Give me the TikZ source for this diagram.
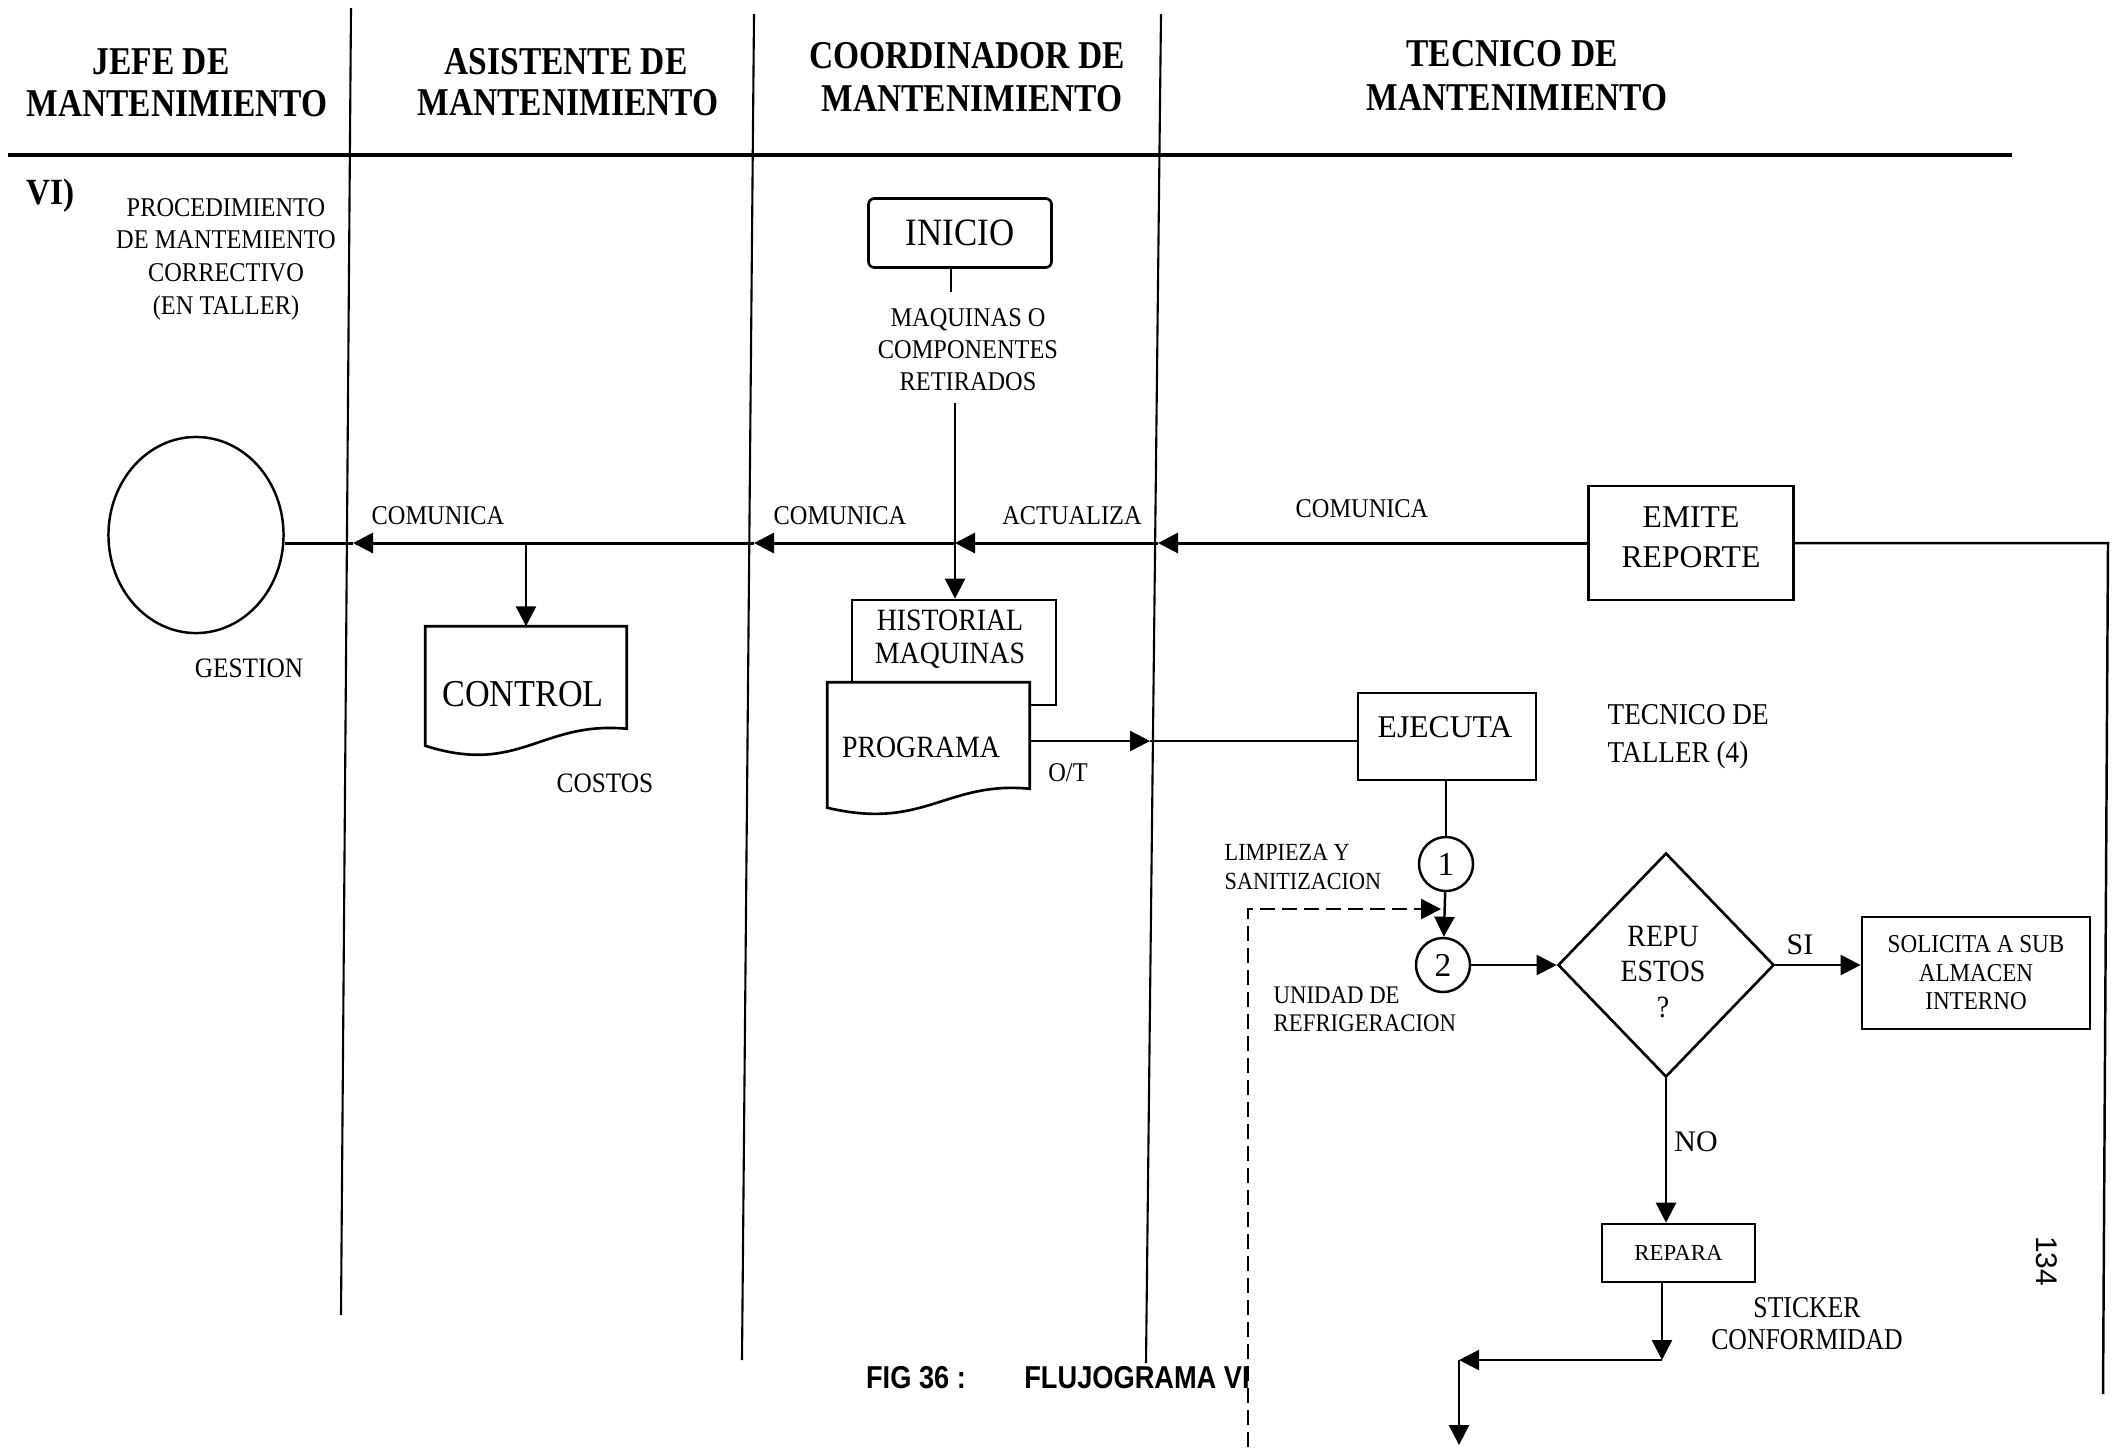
\documentclass[tikz,border=0pt]{standalone}
\usepackage{fontspec}
\setmainfont{Liberation Serif}
\newfontfamily\narrowserif[FakeStretch=0.9]{Liberation Serif}
\newfontfamily\condserif[FakeStretch=0.85]{Liberation Serif}
\newfontfamily\condsans[FakeStretch=0.86]{Liberation Sans}
\newfontfamily\plainsans{Liberation Sans}
\usetikzlibrary{arrows.meta,shapes.geometric,calc}
\newcommand\setsz[2]{\fontsize{#1}{#2}\selectfont}

\begin{document}
\begin{tikzpicture}[x=0.01cm,y=-0.01cm,
  line/.style={line width=0.7pt},
  arr/.style={line width=0.7pt,-{Triangle[length=0.2cm,width=0.2cm]}},
  mainarr/.style={line width=0.85pt,-{Triangle[length=0.2cm,width=0.2cm]}},
  dsharr/.style={line width=0.7pt,dash pattern=on 0.15cm off 0.07cm,-{Triangle[length=0.2cm,width=0.2cm]}},
  lane/.style={line width=0.6pt},
  box/.style={draw,line width=0.75pt,fill=white,inner sep=0pt},
  txt/.style={inner sep=0pt,align=center},
  hdr/.style={txt,font=\condserif\bfseries\setsz{11.2pt}{12pt}},
  lbl/.style={txt,font=\narrowserif\setsz{7.7pt}{9.2pt}},
]
% page
\fill[white] (0,0) rectangle (2112,1447);
\useasboundingbox (0,0) rectangle (2112,1447);

% ---------- swimlane grid ----------
\coordinate (Hl) at (8,155);   \coordinate (Hr) at (2012,155);
\coordinate (L1t) at (351,8);  \coordinate (L1b) at (341,1315);
\coordinate (L2t) at (754,14); \coordinate (L2b) at (742,1360);
\coordinate (L3t) at (1161,14);\coordinate (L3b) at (1146,1363);
\draw[line width=1.2pt] (Hl) -- (Hr);
\draw[lane] (L1t) -- (L1b);
\draw[lane] (L2t) -- (L2b);
\draw[lane] (L3t) -- (L3b);

% lane titles
\node[hdr] (hja) at (161,62)  {JEFE DE};
\node[hdr] (hjb) at (177,104) {MANTENIMIENTO};
\node[hdr] (haa) at (566,62)  {ASISTENTE DE};
\node[hdr] (hab) at (568,103) {MANTENIMIENTO};
\node[hdr] (hca) at (967,56)  {COORDINADOR DE};
\node[hdr] (hcb) at (972,99)  {MANTENIMIENTO};
\node[hdr] (hta) at (1512,54) {TECNICO DE};
\node[hdr] (htb) at (1517,98) {MANTENIMIENTO};

\node[txt,font=\narrowserif\bfseries\setsz{10.5pt}{11pt}] (vi) at (51,196) {VI)};
\node[lbl,font=\narrowserif\setsz{7.7pt}{9.3pt}] (proc) at (226,259)
  {PROCEDIMIENTO\\DE MANTEMIENTO\\CORRECTIVO\\(EN TALLER)};

% ---------- shapes ----------
\node[draw,ellipse,line width=0.7pt,minimum width=1.75cm,minimum height=1.96cm,inner sep=0pt] (gest) at (196,535) {};
\node[lbl,font=\narrowserif\setsz{8pt}{9pt}] (gesttxt) at (249,668) {GESTION};

\node[box,rounded corners=0.06cm,minimum width=1.83cm,minimum height=0.69cm,
      font=\narrowserif\setsz{11pt}{12pt}] (inicio) at (960,233) {INICIO};
\node[lbl,font=\narrowserif\setsz{7.7pt}{9.1pt}] (maq) at (968,350)
  {MAQUINAS O\\COMPONENTES\\RETIRADOS};

\node[box,minimum width=2.05cm,minimum height=1.14cm] (emite) at (1691,543) {};
\node[txt,font=\setsz{9pt}{11.4pt}] (emitetxt) at (1691,537) {EMITE\\REPORTE};

% CONTROL document
\node[inner sep=0pt,minimum width=2.0cm,minimum height=1.01cm] (control) at (526,677.5) {};
\draw[line width=0.75pt,fill=white] (control.north west) -- (control.north east) -- (control.south east)
  .. controls +(-86,-8) and +(94,30) .. ($(control.south west)+(0,17)$) -- cycle;
\node[txt,font=\narrowserif\setsz{10.8pt}{12pt}] (controltxt) at (523,694) {CONTROL};
\node[lbl,font=\narrowserif\setsz{8pt}{9pt}] (costos) at (605,783) {COSTOS};

% HISTORIAL box behind the PROGRAMA document
\node[box,minimum width=2.04cm,minimum height=1.05cm] (historial) at (954,652.5) {};
\node[txt,font=\narrowserif\setsz{8.8pt}{9.4pt}] (historialtxt) at (950,639) {HISTORIAL\\MAQUINAS};
\node[inner sep=0pt,minimum width=2.01cm,minimum height=1.05cm] (programa) at (928.5,735.5) {};
\draw[line width=0.75pt,fill=white] (programa.north west) -- (programa.north east) -- (programa.south east)
  .. controls +(-84,-8) and +(97,23) .. ($(programa.south west)+(0,19)$) -- cycle;
\node[txt,font=\narrowserif\setsz{8.8pt}{10pt}] (programatxt) at (921,747) {PROGRAMA};

\node[box,minimum width=1.78cm,minimum height=0.87cm] (ejecuta) at (1447,736.5) {};
\node[txt,font=\setsz{9pt}{10pt}] (ejecutatxt) at (1445,727) {EJECUTA};
\node[txt,anchor=west,align=left,font=\narrowserif\setsz{8.6pt}{10.8pt}] (taller) at (1607,737)
  {TECNICO DE\\TALLER (4)};

\node[draw,circle,line width=0.7pt,minimum size=0.54cm,inner sep=0pt,font=\setsz{9.5pt}{10pt}] (c1) at (1446,864) {1};
\node[draw,circle,line width=0.7pt,minimum size=0.54cm,inner sep=0pt,font=\setsz{9.5pt}{10pt}] (c2) at (1443,965) {2};
\node[txt,anchor=west,align=left,font=\narrowserif\setsz{7pt}{8.5pt}] (limp) at (1224,867)
  {LIMPIEZA Y\\SANITIZACION};
\node[txt,anchor=west,align=left,font=\narrowserif\setsz{7.2pt}{8pt}] (unid) at (1273,1009)
  {UNIDAD DE\\REFRIGERACION};

\node[draw,diamond,line width=0.75pt,minimum width=2.16cm,minimum height=2.24cm,inner sep=0pt] (rep) at (1666,965) {};
\node[txt,font=\narrowserif\setsz{8.8pt}{10.2pt}] (reptxt) at (1663,972) {REPU\\ESTOS\\?};

\node[box,minimum width=2.28cm,minimum height=1.12cm,align=center,
      font=\narrowserif\setsz{7.3pt}{8.1pt}] (sol) at (1976,973) {SOLICITA A SUB\\ALMACEN\\INTERNO};

\node[box,minimum width=1.53cm,minimum height=0.58cm,font=\setsz{6.5pt}{7pt}] (repara) at (1678.5,1253) {REPARA};
\node[txt,font=\condserif\setsz{8.6pt}{9.1pt}] (sticker) at (1807,1324) {STICKER\\CONFORMIDAD};

% ---------- connectors ----------
% main reporting line, right to left
\coordinate (m3) at (1158,543);
\coordinate (mj) at (955,543);
\coordinate (m2) at (754,543);
\coordinate (mc) at (526,543);
\coordinate (m1) at (353,543);
\draw[mainarr] (emite.west) -- (m3);
\draw[mainarr] (m3) -- (mj);
\draw[mainarr] (mj) -- (m2);
\draw[mainarr] (m2) -- (m1);
\draw[line width=0.85pt] (m1) -- (m1 -| gest.east);
\draw[arr] (mc) -- (control.north);
\node[lbl] (com1) at (438,516) {COMUNICA};
\node[lbl] (com2) at (840,516) {COMUNICA};
\node[lbl] (act)  at (1072,516) {ACTUALIZA};
\node[lbl] (com3) at (1362,509) {COMUNICA};

% return line on the right
\coordinate (r1) at (2108,543);
\coordinate (r2) at (2103,1394);
\draw[line] (emite.east) -- (r1) -- (r2);

% start of the flow
\coordinate (i1) at (951,292);
\draw[line] (i1 |- inicio.south) -- (i1);
\coordinate (h0) at (955,403);
\draw[arr] (h0) -- (h0 |- historial.north);

% work order
\coordinate (ot) at (1150,741);
\draw[arr] (programa.east |- ot) -- (ot);
\draw[line] (ot) -- (ot -| ejecuta.west);
\node[lbl] (otlbl) at (1068,773) {O/T};

% execution
\draw[line] (ejecuta.south -| c1) -- (c1.north);
\draw[arr] (c1) -- (c2);
\coordinate (dbot) at (1248,1447);
\coordinate (dcor) at (1248,909);
\coordinate (dtip) at (1441,909);
\draw[dsharr] (dbot) -- (dcor) -- (dtip);
\draw[arr] (c2) -- (rep);
\draw[arr] (rep.east) -- (rep.east -| sol.west);
\node[txt,font=\setsz{8.5pt}{9pt}] (si) at (1800,945) {SI};
\draw[arr] (rep.south) -- (rep.south |- repara.north);
\node[txt,font=\setsz{8.5pt}{9pt}] (no) at (1696,1142) {NO};
\coordinate (cj) at (1662,1360);
\coordinate (lj) at (1459,1360);
\coordinate (dn) at (1459,1445);
\draw[arr] (repara.south -| cj) -- (cj);
\draw[arr] (cj) -- (lj);
\draw[arr] (lj) -- (dn);

% caption and page number
\node[txt,font=\condsans\bfseries\setsz{9pt}{10pt}] (fig) at (916,1378) {FIG 36 :};
\node[txt,font=\condsans\bfseries\setsz{9pt}{10pt}] (figt) at (1137,1378) {FLUJOGRAMA VI};
\node[txt,font=\plainsans\setsz{8.5pt}{9pt},rotate=-90] (page) at (2047,1261) {134};
\end{tikzpicture}
\end{document}
